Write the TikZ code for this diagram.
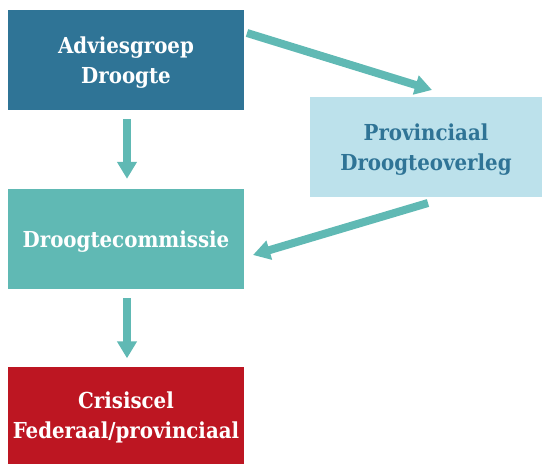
\documentclass[tikz,border=0pt]{standalone}
\usepackage{fontspec}
\setmainfont{DejaVu Serif Condensed}
\usetikzlibrary{arrows.meta}
\definecolor{cdark}{HTML}{2F7496}
\definecolor{clight}{HTML}{BCE1EB}
\definecolor{cteal}{HTML}{60B9B4}
\definecolor{cred}{HTML}{BD1622}
\tikzset{
  box/.style={rectangle, inner sep=0pt, minimum width=236pt, minimum height=100pt, align=center,
    text depth=0pt, font=\fontsize{22}{30}\selectfont\bfseries},
  conn/.style={draw=cteal, line width=8pt, -{Triangle[width=19pt,length=17pt]}},
}
\begin{document}
\begin{tikzpicture}[x=1pt,y=-1pt]
\useasboundingbox (0,0) rectangle (542,464);
\node[box, fill=cdark, text=white] (adv) at (126,60) {Adviesgroep\\Droogte};
\node[box, fill=clight, text=cdark, minimum width=232pt] (prov) at (426,147) {Provinciaal\\Droogteoverleg};
\node[box, fill=cteal, text=white] (com) at (126,239) {Droogtecommissie};
\node[box, fill=cred, text=white, minimum height=98pt] (cri) at (126,415.5) {Crisiscel\\Federaal/provinciaal};
\coordinate (a1s) at (247,33);
\coordinate (a1e) at (432,90);
\coordinate (a2s) at (428,203);
\coordinate (a2e) at (253,255);
\draw[conn, shorten <=9pt, shorten >=10pt] (adv.south -| 127,0) -- (com.north -| 127,0);
\draw[conn, shorten <=9pt, shorten >=8pt] (com.south -| 127,0) -- (cri.north -| 127,0);
\draw[conn] (a1s) -- (a1e);
\draw[conn] (a2s) -- (a2e);
\end{tikzpicture}
\end{document}
